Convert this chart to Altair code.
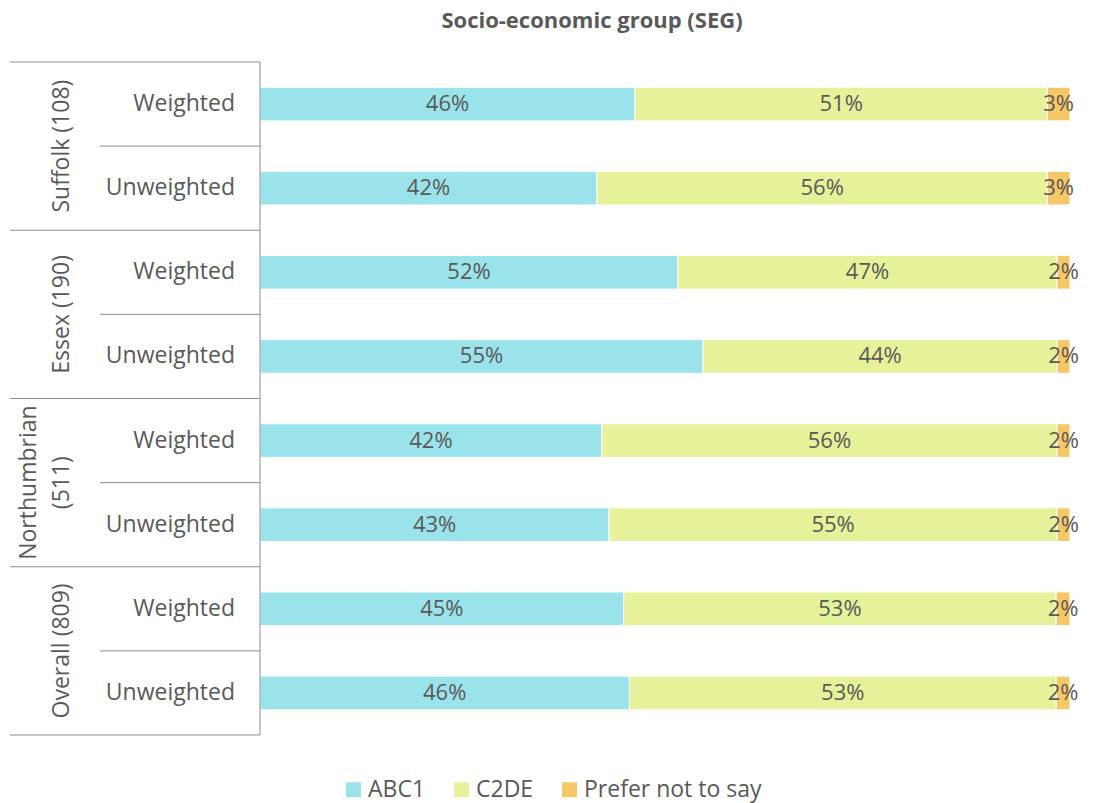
import altair as alt
import pandas as pd

groups = ["Suffolk (108)", "Essex (190)", "Northumbrian\n(511)", "Overall (809)"]
subs = ["Weighted", "Unweighted"]
segments = ["ABC1", "C2DE", "Prefer not to say"]
colors = ["#9BE3EA", "#E6F19A", "#F6C766"]

abc1 = [46.3, 41.6, 51.6, 54.7, 42.2, 43.1, 44.9, 45.6]
c2de = [50.9, 55.6, 46.8, 43.7, 56.2, 55.3, 53.4, 52.7]
pnts = [2.8, 2.8, 1.6, 1.6, 1.6, 1.6, 1.7, 1.7]

TXT = "#595959"
LINE = "#8C8C8C"
FONT = "Open Sans"

rows = []
for i in range(8):
    start = 0.0
    for seg, vals in zip(segments, [abc1, c2de, pnts]):
        v = vals[i]
        rows.append({"row": i, "seg": seg, "value": v, "start": start, "end": start + v,
                     "top": i + 0.3, "bot": i + 0.7, "mid": i + 0.5})
        start += v
df = pd.DataFrame(rows)

sub_df = pd.DataFrame({"label": [subs[i % 2] for i in range(8)], "mid": [i + 0.5 for i in range(8)]})
grp_df = pd.DataFrame({"label": groups, "mid": [2 * g + 1 for g in range(4)]})
outer_df = pd.DataFrame({"pos": [0, 2, 4, 6, 8]})
inner_df = pd.DataFrame({"pos": [1, 3, 5, 7]})
vert_df = pd.DataFrame({"a": [0], "b": [8]})
title_df = pd.DataFrame({"t": ["Socio-economic group (SEG)"]})

yscale = alt.Scale(domain=[0, 8], reverse=True, nice=False, zero=False)
xscale = alt.Scale(domain=[0, 100], nice=False)

bars = alt.Chart(df).mark_bar(stroke="white", strokeWidth=1).encode(
    x=alt.X("start:Q", scale=xscale, axis=None),
    x2="end:Q",
    y=alt.Y("top:Q", scale=yscale, axis=None),
    y2="bot:Q",
    color=alt.Color("seg:N", scale=alt.Scale(domain=segments, range=colors),
                    legend=alt.Legend(title=None, orient="none", direction="horizontal",
                                      legendX=82, legendY=716, symbolType="square",
                                      symbolSize=225, symbolStrokeWidth=0,
                                      labelFontSize=23, labelFont=FONT, labelColor=TXT,
                                      labelLimit=0, columnPadding=24, labelOffset=3)),
)

labels = alt.Chart(df).transform_calculate(
    cx="(datum.start + datum.end) / 2",
    txt="format(datum.value, '.0f') + '%'",
).mark_text(fontSize=22, font=FONT, color=TXT, baseline="middle", align="center").encode(
    x=alt.X("cx:Q", scale=xscale),
    y=alt.Y("mid:Q", scale=yscale),
    text="txt:N",
)

sub_text = alt.Chart(sub_df).mark_text(fontSize=23, font=FONT, color=TXT, align="right",
                                       baseline="middle").encode(
    x=alt.value(-25), y=alt.Y("mid:Q", scale=yscale), text="label:N")

grp_single = alt.Chart(grp_df).transform_filter(
    "indexof(datum.label, '\\n') < 0"
).mark_text(fontSize=23, font=FONT, color=TXT, align="center",
            baseline="bottom", angle=270).encode(
    x=alt.value(-186), y=alt.Y("mid:Q", scale=yscale), text="label:N")

grp_multi = alt.Chart(grp_df).transform_filter(
    "indexof(datum.label, '\\n') >= 0"
).mark_text(fontSize=23, font=FONT, color=TXT, align="center",
            baseline="bottom", angle=270, lineBreak="\n", lineHeight=33).encode(
    x=alt.value(-219), y=alt.Y("mid:Q", scale=yscale), text="label:N")

outer = alt.Chart(outer_df).mark_rule(color=LINE, strokeWidth=1).encode(
    x=alt.value(-250), x2=alt.value(0), y=alt.Y("pos:Q", scale=yscale))
inner = alt.Chart(inner_df).mark_rule(color=LINE, strokeWidth=1).encode(
    x=alt.value(-160), x2=alt.value(0), y=alt.Y("pos:Q", scale=yscale))
vert = alt.Chart(vert_df).mark_rule(color=LINE, strokeWidth=1).encode(
    x=alt.value(0), y=alt.Y("a:Q", scale=yscale), y2="b:Q")

title = alt.Chart(title_df).mark_text(fontSize=22, font=FONT, fontWeight="bold", color=TXT,
                                      align="center", baseline="middle").encode(
    x=alt.value(332), y=alt.value(-41), text="t:N")

chart = alt.layer(bars, labels, sub_text, grp_single, grp_multi, outer, inner, vert, title).properties(
    width=810, height=673,
    autosize=alt.AutoSizeParams(type="none"),
    padding={"left": 260, "top": 62, "right": 24, "bottom": 68},
).configure_view(stroke=None).resolve_scale(y="shared", x="shared")

chart.save("out.html", embed_options={"renderer": "svg", "actions": False})
